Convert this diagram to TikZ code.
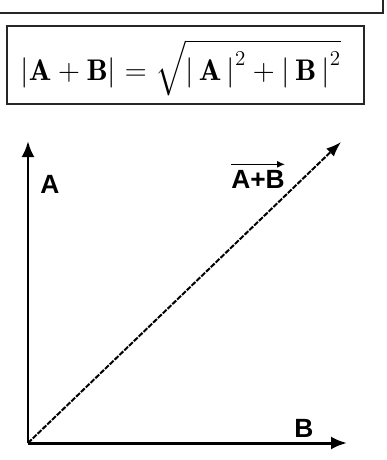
\documentclass[tikz,border=0pt]{standalone}
\usepackage{amsmath}
\usepackage{fontspec}
\usetikzlibrary{arrows.meta}
\newfontfamily\lblfont{Liberation Sans}
\tikzset{
	axis/.style={line width=0.6mm, -{Latex[length=3.2mm,width=2.6mm]}},
	sumvec/.style={line width=0.4mm, dash pattern=on 3pt off 0.8pt, -{Latex[length=3mm,width=2.2mm]}},
	lbl/.style={font=\lblfont\bfseries\fontsize{15}{18}\selectfont, inner sep=0pt}
}

\begin{document}
\begin{tikzpicture}[x=0.02cm, y=-0.02cm]
			%%%%% START %%%%%
			
			\useasboundingbox (0, 0) rectangle (386, 460);
			
			\draw[line width=0.5mm, color=black!85] (0, 13) -- (383, 13) -- (383, 0);
			
			\draw[line width=0.4mm, color=black!85] (7, 26) rectangle (364, 104);
			\node[anchor=base west, inner sep=0pt, font=\fontsize{17}{20}\selectfont] (formula) at (20, 80)
				{$\left|\mathbf{A}+\mathbf{B}\right| = \sqrt{\left|\,\mathbf{A}\,\right|^2 + \left|\,\mathbf{B}\,\right|^2}$};
			
			\coordinate (O) at (28, 443);
			\coordinate (Atip) at (28, 141);
			\coordinate (Btip) at (347, 443);
			\coordinate (Rtip) at (341, 142);
			
			\draw[axis] (O) -- (Atip);
			\draw[axis] (O) -- (Btip);
			\draw[sumvec] (O) -- (Rtip);
			
			\node[lbl] (labA) at (50, 184) {A};
			\node[lbl] (labB) at (304, 428) {B};
			\node[lbl] (labR) at (258, 179) {A+B};
			\draw[line width=0.3mm, -{Latex[length=1.6mm,width=1.4mm]}]
				([yshift=3pt]labR.north west) -- ([yshift=3pt]labR.north east);
			
			%%%%% END %%%%%
		\end{tikzpicture}
\end{document}
